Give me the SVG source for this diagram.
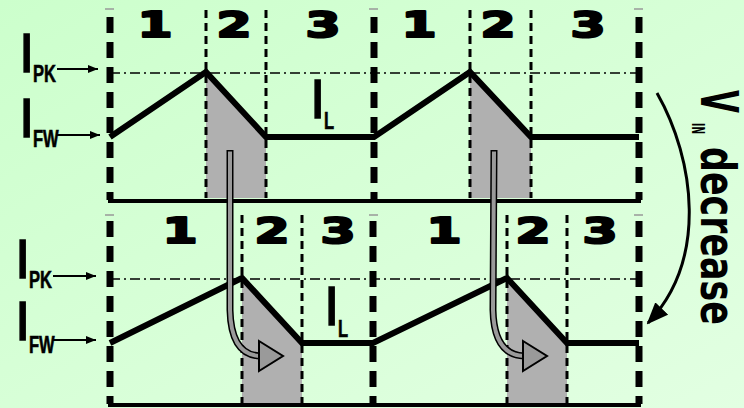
<svg xmlns="http://www.w3.org/2000/svg" width="744" height="408" viewBox="0 0 744 408">
<defs>
<linearGradient id="bg" x1="0" y1="0" x2="1" y2="1">
<stop offset="0" stop-color="#ccffcc"/>
<stop offset="1" stop-color="#e2ffe2"/>
</linearGradient>
<marker id="ah" viewBox="0 0 10 8" refX="10" refY="4" markerWidth="10" markerHeight="8" markerUnits="userSpaceOnUse" orient="auto">
<path d="M0,0 L10,4 L0,8 Z" fill="#000"/>
</marker>
<marker id="ahBig" viewBox="0 0 22 18" refX="20" refY="9" markerWidth="22" markerHeight="18" markerUnits="userSpaceOnUse" orient="auto">
<path d="M0,0 L22,9 L0,18 Z" fill="#000"/>
</marker>
<style>
.thick{stroke:#000;stroke-width:7;stroke-dasharray:16 9;fill:none}
.thin{stroke:#000;stroke-width:3;stroke-dasharray:8 5;fill:none}
.dd{stroke:#000;stroke-width:1.3;stroke-dasharray:10 4 2 4;fill:none}
.wave{stroke:#000;stroke-width:6;fill:none;stroke-linejoin:miter}
.base{stroke:#000;stroke-width:4;fill:none}
.shade{fill:#b0b0b0}
.tick{stroke:#999;stroke-width:1.5}
.dig{font-family:"DejaVu Sans",sans-serif;font-weight:bold;font-size:36px;fill:#000;stroke:#000;stroke-width:2.2;stroke-linejoin:round;text-anchor:middle}
.bigI{font-family:"Liberation Sans",sans-serif;font-size:55px;fill:#000;stroke:#000;stroke-width:1.4}
.sub{font-family:"Liberation Sans",sans-serif;font-weight:bold;font-size:23px;fill:#000;stroke:#000;stroke-width:0.6}
.lab{stroke:#000;stroke-width:2;marker-end:url(#ah)}
.vt{font-family:"DejaVu Sans",sans-serif;font-weight:bold;fill:#000}
.ga-out{stroke:#000;stroke-width:7;fill:none}
.ga-in{stroke:#9a9a9a;stroke-width:4;fill:none}
.ga-head{fill:#9a9a9a;stroke:#000;stroke-width:2;stroke-linejoin:miter}
</style>
</defs>
<rect width="744" height="408" fill="url(#bg)"/>

<g id="top-panel">
<polygon class="shade" points="206,72 266,137 266,198 206,198"/>
<polygon class="shade" points="470,72 531,137 531,198 470,198"/>
<line class="dd" x1="110" y1="73" x2="639" y2="73"/>
<line class="tick" x1="105" y1="9" x2="114" y2="9"/>
<line class="tick" x1="369" y1="9" x2="378" y2="9"/>
<line class="tick" x1="634" y1="9" x2="643" y2="9"/>
<line class="thick" x1="110" y1="17" x2="110" y2="200"/>
<line class="thick" x1="374" y1="17" x2="374" y2="200"/>
<line class="thick" x1="639" y1="17" x2="639" y2="200"/>
<line class="thin" x1="206" y1="10" x2="206" y2="198"/>
<line class="thin" x1="266" y1="10" x2="266" y2="198"/>
<line class="thin" x1="470" y1="10" x2="470" y2="198"/>
<line class="thin" x1="531" y1="10" x2="531" y2="198"/>
<polyline class="wave" points="110,137 206,72 266,137 374,137 470,72 531,137 639,137"/>
<line class="base" x1="108" y1="201" x2="641" y2="201"/>
<text class="dig" transform="translate(155,37) scale(1.4,1)">1</text>
<text class="dig" transform="translate(234,37) scale(1.4,1)">2</text>
<text class="dig" transform="translate(323,37) scale(1.4,1)">3</text>
<text class="dig" transform="translate(419,37) scale(1.4,1)">1</text>
<text class="dig" transform="translate(498,37) scale(1.4,1)">2</text>
<text class="dig" transform="translate(588,37) scale(1.4,1)">3</text>
</g>

<g id="top-labels">
<text class="bigI" x="19" y="72">I</text>
<text class="sub" transform="translate(33,82) scale(0.72,1)">PK</text>
<line class="lab" x1="57" y1="69" x2="98" y2="69"/>
<text class="bigI" x="19" y="137">I</text>
<text class="sub" transform="translate(33,147) scale(0.72,1)">FW</text>
<line class="lab" x1="57" y1="135" x2="100" y2="135"/>
<text class="bigI" x="310" y="118">I</text>
<text class="sub" transform="translate(324,129) scale(0.72,1)">L</text>
</g>

<g id="bottom-panel">
<polygon class="shade" points="242,278 302,343 302,403 242,403"/>
<polygon class="shade" points="507,278 567,343 567,403 507,403"/>
<line class="dd" x1="110" y1="279" x2="639" y2="279"/>
<line class="tick" x1="105" y1="215" x2="114" y2="215"/>
<line class="tick" x1="369" y1="215" x2="378" y2="215"/>
<line class="tick" x1="634" y1="215" x2="643" y2="215"/>
<line class="thick" x1="110" y1="221" x2="110" y2="404"/>
<line class="thick" x1="373" y1="221" x2="373" y2="404"/>
<line class="thick" x1="639" y1="221" x2="639" y2="404"/>
<line class="thin" x1="242" y1="215" x2="242" y2="404"/>
<line class="thin" x1="302" y1="215" x2="302" y2="404"/>
<line class="thin" x1="507" y1="215" x2="507" y2="404"/>
<line class="thin" x1="567" y1="215" x2="567" y2="404"/>
<polyline class="wave" points="110,343 242,278 302,343 373,343 507,278 567,343 639,343"/>
<line class="base" x1="108" y1="405" x2="641" y2="405"/>
<text class="dig" transform="translate(180,243) scale(1.4,1)">1</text>
<text class="dig" transform="translate(272,243) scale(1.4,1)">2</text>
<text class="dig" transform="translate(338,243) scale(1.4,1)">3</text>
<text class="dig" transform="translate(444,243) scale(1.4,1)">1</text>
<text class="dig" transform="translate(533,243) scale(1.4,1)">2</text>
<text class="dig" transform="translate(600,243) scale(1.4,1)">3</text>
</g>

<g id="bottom-labels">
<text class="bigI" x="15" y="278">I</text>
<text class="sub" transform="translate(29,288) scale(0.72,1)">PK</text>
<line class="lab" x1="53" y1="276" x2="96" y2="276"/>
<text class="bigI" x="15" y="340">I</text>
<text class="sub" transform="translate(29,353) scale(0.72,1)">FW</text>
<line class="lab" x1="53" y1="340" x2="96" y2="340"/>
<text class="bigI" x="324" y="325">I</text>
<text class="sub" transform="translate(338,337) scale(0.72,1)">L</text>
</g>

<g id="vin-label">
<g transform="translate(701,90) rotate(90)">
<text class="vt" x="0" y="0" font-size="52" textLength="23" lengthAdjust="spacingAndGlyphs">V</text>
<text class="vt" x="33" y="9" font-size="17" textLength="11" lengthAdjust="spacingAndGlyphs">IN</text>
<text class="vt" x="57" y="0" font-size="48" textLength="178" lengthAdjust="spacingAndGlyphs">decrease</text>
</g>
</g>

<g id="connectors">
<path class="ga-out" d="M230,150 L230,310 Q231,355 260,356"/>
<path class="ga-in" d="M230,151.5 L230,310 Q231,355 260,356"/>
<polygon class="ga-head" points="259,341 283,356 259,371"/>
<path class="ga-out" d="M494,150 L493,310 Q494,355 524,356"/>
<path class="ga-in" d="M494,151.5 L493,310 Q494,355 524,356"/>
<polygon class="ga-head" points="523,341 547,356 523,371"/>
<path d="M657,93 C695,160 708,260 648,323" stroke="#000" stroke-width="3" fill="none" marker-end="url(#ahBig)"/>
</g>
</svg>
